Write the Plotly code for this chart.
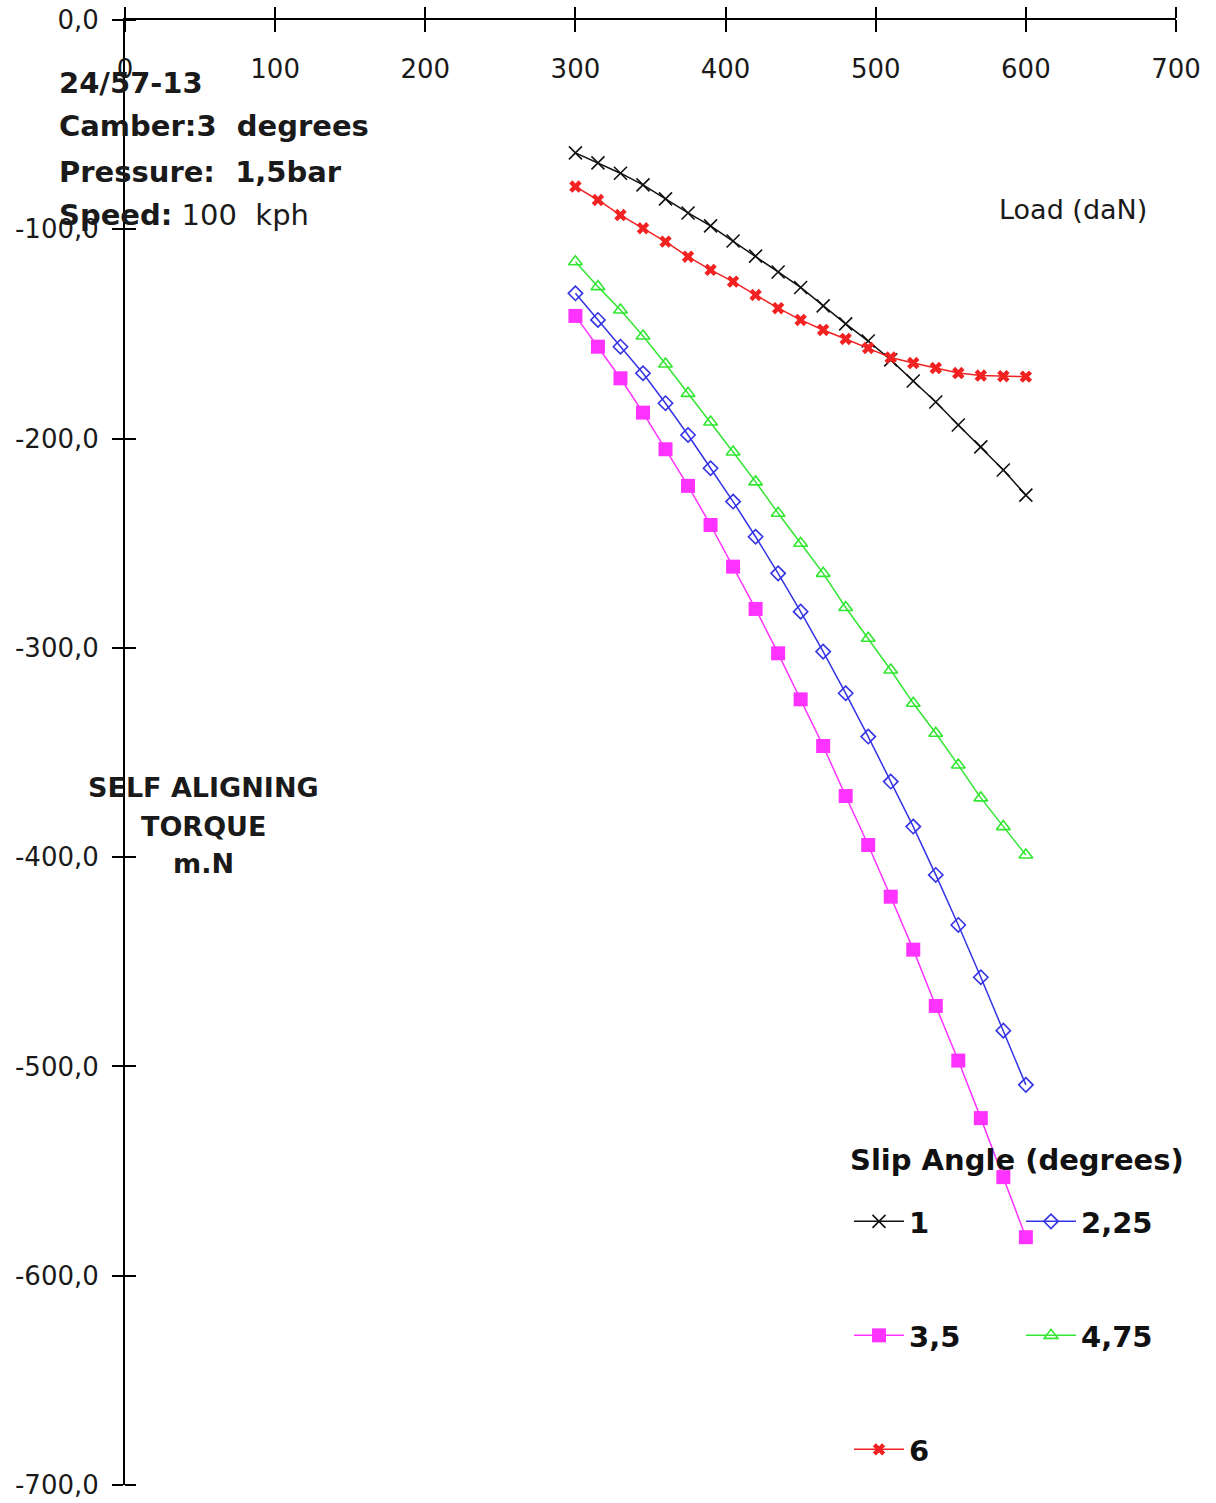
import plotly.graph_objects as go

# Load in daN (x) and self aligning torque in m.N (y) for each slip angle
load = [300, 315, 330, 345, 360, 375, 390, 405, 420, 435, 450,
        465, 480, 495, 510, 525, 540, 555, 570, 585, 600]

slip_1 = [-63.5, -68.3, -73.2, -78.8, -85.5, -92.2, -98.4, -105.6, -112.8, -120.4, -127.8,
          -136.6, -145.2, -153.4, -162.4, -172.5, -182.5, -193.5, -204.0, -215.0, -227.0]
slip_225 = [-130.6, -143.3, -156.1, -168.8, -183.1, -198.3, -214.2, -230.1, -246.9, -264.4, -282.7,
            -301.8, -321.7, -342.4, -363.9, -385.4, -408.5, -432.4, -457.4, -482.9, -508.8]
slip_35 = [-141.4, -156.1, -171.2, -187.6, -205.1, -222.6, -241.3, -261.2, -281.4, -302.6, -324.6,
           -346.9, -370.8, -394.2, -418.9, -444.2, -471.1, -497.2, -524.7, -552.9, -581.6]
slip_475 = [-115.5, -127.4, -138.6, -151.0, -164.4, -178.4, -192.1, -206.4, -220.7, -235.7, -250.0,
            -264.4, -280.7, -295.4, -310.6, -326.5, -340.8, -356.0, -371.7, -385.4, -399.0]
slip_6 = [-79.6, -86.0, -93.2, -99.5, -105.9, -113.1, -119.4, -125.0, -131.4, -137.7, -143.3,
          -148.1, -152.4, -156.7, -161.3, -163.9, -166.3, -168.7, -169.9, -170.2, -170.4]

x_ticks = [0, 100, 200, 300, 400, 500, 600, 700]
y_ticks = [0, -100, -200, -300, -400, -500, -600, -700]
y_tick_text = ["0,0", "-100,0", "-200,0", "-300,0", "-400,0", "-500,0", "-600,0", "-700,0"]

FONT = "DejaVu Sans"
W, H = 1216, 1503
ML, MR, MT, MB = 125, 40, 20, 18


def px(xp):
    return (xp - ML) / (W - ML - MR)


def py(yp):
    return 1 - (yp - MT) / (H - MT - MB)


series = [
    ("1", slip_1, "#111111", dict(symbol="x-thin", size=13, line=dict(width=1.6, color="#111111")), "legend"),
    ("2,25", slip_225, "#3434e6", dict(symbol="diamond-open", size=11, line=dict(width=1.6, color="#3434e6")), "legend"),
    ("3,5", slip_35, "#ff33ff", dict(symbol="square", size=14, color="#ff33ff", line=dict(width=0)), "legend2"),
    ("4,75", slip_475, "#33e633", dict(symbol="triangle-up-open", size=12, line=dict(width=1.6, color="#33e633")), "legend2"),
    ("6", slip_6, "#f22222", dict(symbol="x", size=11, color="#f22222", line=dict(width=0)), "legend3"),
]

fig = go.Figure()
for name, vals, color, marker, leg in series:
    fig.add_trace(go.Scatter(
        x=load, y=vals, name=name, mode="lines+markers",
        line=dict(color=color, width=1.5),
        marker=marker, legend=leg,
    ))

legend_common = dict(
    orientation="h", xanchor="left", yanchor="top",
    bgcolor="rgba(0,0,0,0)", borderwidth=0,
    font=dict(family=FONT, size=29, color="#111111", weight="bold"),
    entrywidth=107, entrywidthmode="pixels", itemwidth=50,
)

fig.update_layout(
    width=W, height=H,
    margin=dict(l=ML, r=MR, t=MT, b=MB),
    paper_bgcolor="white", plot_bgcolor="white",
    showlegend=True,
    separators=",.",
    font=dict(family=FONT, color="#1a1a1a"),
    xaxis=dict(
        side="top", range=[0, 700], tickvals=x_ticks, automargin=False,
        showline=True, linecolor="black", linewidth=2,
        ticks="outside", ticklen=11, tickwidth=1.5, tickcolor="black",
        minor=dict(ticks="inside", ticklen=12, tickwidth=1.5, tickcolor="black", tickvals=x_ticks),
        ticklabelposition="inside", ticklabelstandoff=42, ticklabeloverflow="allow",
        tickfont=dict(family=FONT, size=26, color="#1a1a1a"),
        showgrid=False, zeroline=False,
    ),
    yaxis=dict(
        range=[-700, 0], tickvals=y_ticks, ticktext=y_tick_text, automargin=False,
        showline=True, linecolor="black", linewidth=2,
        ticks="outside", ticklen=11, tickwidth=1.5, tickcolor="black",
        minor=dict(ticks="inside", ticklen=11, tickwidth=1.5, tickcolor="black", tickvals=y_ticks),
        ticklabelstandoff=8, ticklabeloverflow="allow",
        tickfont=dict(family=FONT, size=26, color="#1a1a1a"),
        showgrid=False, zeroline=False,
    ),
    legend=dict(legend_common, x=px(849), y=py(1196)),
    legend2=dict(legend_common, x=px(849), y=py(1310)),
    legend3=dict(legend_common, x=px(849), y=py(1424)),
)

# Legend heading for the slip angle entries
fig.add_annotation(text="<b>Slip Angle (degrees)</b>", xref="paper", yref="paper",
                   x=px(848), y=py(1160), xanchor="left", yanchor="middle", showarrow=False,
                   font=dict(family=FONT, size=29, color="#111111"))

# Test conditions block, upper left
info_lines = [
    ("<b>24/57-13</b>", 83),
    ("<b>Camber:3\u00a0 degrees</b>", 126),
    ("<b>Pressure:\u00a0 1,5bar</b>", 172),
    ("<b>Speed:</b> 100\u00a0 kph", 215),
]
for text, yp in info_lines:
    fig.add_annotation(text=text, xref="paper", yref="paper", x=px(57), y=py(yp),
                       xanchor="left", yanchor="middle", showarrow=False,
                       font=dict(family=FONT, size=29, color="#1a1a1a"))

# Axis titles
fig.add_annotation(text="Load (daN)", xref="paper", yref="paper", x=px(1073), y=py(210),
                   xanchor="center", yanchor="middle", showarrow=False,
                   font=dict(family=FONT, size=27, color="#1a1a1a"))
for text, yp in [("SELF ALIGNING", 787), ("TORQUE", 826), ("m.N", 864)]:
    fig.add_annotation(text="<b>" + text + "</b>", xref="paper", yref="paper", x=px(203), y=py(yp),
                       xanchor="center", yanchor="middle", showarrow=False,
                       font=dict(family=FONT, size=27, color="#1a1a1a"))

fig.write_html("out.html")
